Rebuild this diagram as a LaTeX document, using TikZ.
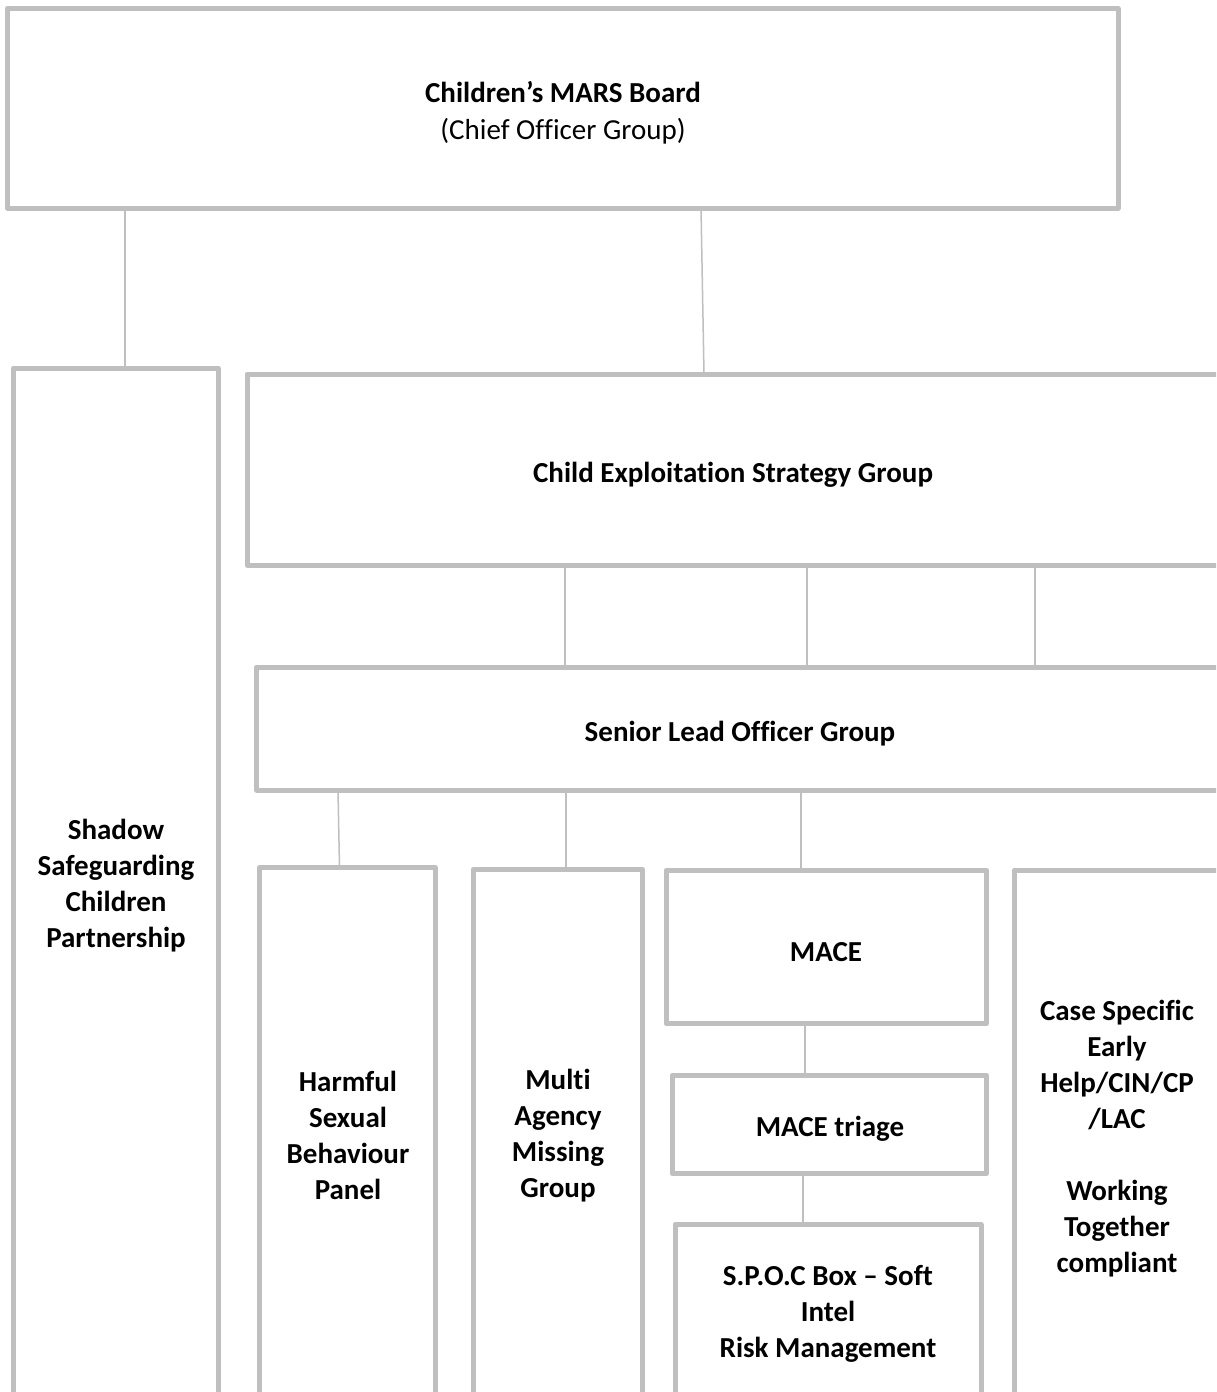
\documentclass[tikz,border=0pt]{standalone}
\usepackage{fontspec}
\setmainfont{Carlito}[RawFeature={-liga;-clig;-dlig;-calt;-rlig}]
\usetikzlibrary{fit}
\definecolor{boxgray}{RGB}{191,191,191}
\newcommand{\nlg}{\kern0pt }
\tikzset{
  orgbox/.style={draw=boxgray, line width=5pt, line join=round, fill=white, inner sep=0pt, outer sep=0pt},
  link/.style={draw=boxgray, line width=1.5pt},
  lbl/.style={align=center, inner sep=0pt, font=\fontsize{29}{36}\selectfont\bfseries},
}
\begin{document}
\begin{tikzpicture}[x=1pt,y=-1pt]
\useasboundingbox (0,0) rectangle (1216,1392);
\clip (0,0) rectangle (1216,1392);
\fill[white] (0,0) rectangle (1216,1392);

% boxes
\node[orgbox, fit={(7.5,8.5) (1118,208)}] (mars) {};
\node[orgbox, fit={(13.3,368) (218,1430)}] (shadow) {};
\node[orgbox, fit={(247,374) (1222,565)}] (cesg) {};
\node[orgbox, fit={(256.7,667) (1224,790)}] (slog) {};
\node[orgbox, fit={(259.5,867.5) (435,1430)}] (harm) {};
\node[orgbox, fit={(473,869.5) (642.5,1430)}] (multi) {};
\node[orgbox, fit={(666,870.5) (986.5,1023.5)}] (mace) {};
\node[orgbox, fit={(672,1075.5) (986.5,1173.5)}] (triage) {};
\node[orgbox, fit={(675,1224.5) (981,1430)}] (spoc) {};
\node[orgbox, fit={(1014.5,870) (1222,1430)}] (case) {};

% connectors
\draw[link] (mars.south -| 125,0) -- (shadow.north -| 125,0);
\draw[link] (mars.south -| 701,0) -- (cesg.north -| 704,0);
\draw[link] (cesg.south -| 565,0) -- (slog.north -| 565,0);
\draw[link] (cesg.south -| 807,0) -- (slog.north -| 807,0);
\draw[link] (cesg.south -| 1035,0) -- (slog.north -| 1035,0);
\draw[link] (slog.south -| 338,0) -- (harm.north -| 339.5,0);
\draw[link] (slog.south -| 566,0) -- (multi.north -| 566,0);
\draw[link] (slog.south -| 801,0) -- (mace.north -| 801,0);
\draw[link] (mace.south -| 805,0) -- (triage.north -| 805,0);
\draw[link] (triage.south -| 803,0) -- (spoc.north -| 803,0);

% texts
\node[lbl, font=\fontsize{29}{37}\selectfont] (marsT) at (563,113) {\textbf{Children’s MARS Board}\\\mdseries (Chief Of\nlg f\nlg icer Group)};
\node[lbl] (cesgT) at (733,475) {Child Exploitat\nlg ion Strategy Group};
\node[lbl] (slogT) at (740,734) {Senior Lead Of\nlg f\nlg icer Group};
\node[lbl] (shadowT) at (116,886) {Shadow\\Safeguarding\\Children\\Partnership};
\node[lbl] (harmT) at (348,1135) {Harmful\\Sexual\\Behaviour\\Panel};
\node[lbl] (multiT) at (558,1136) {Mult\nlg i\\Agency\\Missing\\Group};
\node[lbl] (maceT) at (826,952) {MACE};
\node[lbl] (triageT) at (830,1129) {MACE triage};
\node[lbl] (spocT) at (828,1314) {S.P.O.C Box – Soft\\Intel\\Risk Management};
\node[lbl] (caseT) at (1117,1138.5) {Case Specif\nlg ic\\Early\\Help/CIN/CP\\/LAC\\[36pt]Working\\Together\\compliant};
\end{tikzpicture}
\end{document}
